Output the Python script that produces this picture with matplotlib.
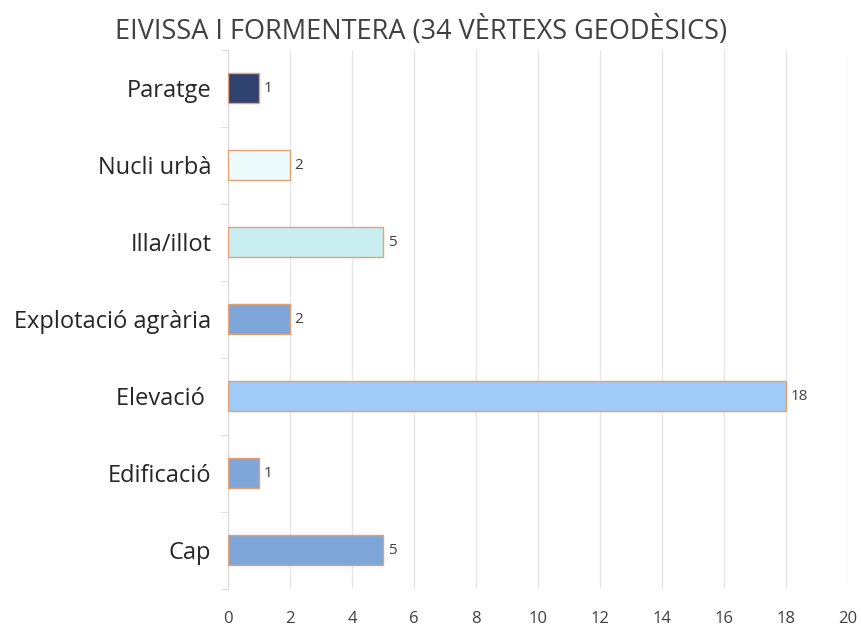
import matplotlib
matplotlib.use("Agg")
import matplotlib.pyplot as plt

categories = ['Cap', 'Edificació', 'Elevació ', 'Explotació agrària',
              'Illa/illot', 'Nucli urbà', 'Paratge']
counts = [5, 1, 18, 2, 5, 2, 1]
bar_colors = ['#7ea6d8', '#7ea6d8', '#9ecbf7', '#7ea6d8',
              '#c8eef2', '#ecfbfb', '#2f4270']
x_ticks = list(range(0, 21, 2))
title = 'EIVISSA I FORMENTERA (34 VÈRTEXS GEODÈSICS)'

plt.rcParams['font.family'] = ['Open Sans', 'DejaVu Sans']

fig = plt.figure(figsize=(8.62, 6.27), dpi=100)
ax = fig.add_axes([0.2645, 0.0614, 0.7193, 0.8596])

ypos = range(len(categories))
ax.barh(ypos, counts, height=0.39, color=bar_colors,
        edgecolor='#e8a070', linewidth=1.0, zorder=3)
for y, v in zip(ypos, counts):
    ax.text(v + 0.15, y, str(v), va='center', ha='left',
            fontsize=11, color='#404040')

ax.set_xlim(0, 20)
ax.set_ylim(-0.5, len(categories) - 0.5)
ax.set_xticks(x_ticks)
ax.set_yticks(list(ypos))
ax.set_yticklabels(categories, fontsize=17, color='#262626')
ax.tick_params(axis='x', length=0, labelsize=12, colors='#404040', pad=16)
ax.tick_params(axis='y', length=0, pad=12)
# small minor ticks at category boundaries on the left axis
ax.set_yticks([i - 0.5 for i in range(len(categories) + 1)], minor=True)
ax.tick_params(axis='y', which='minor', length=5, color='#d9d9d9', direction='out')

ax.grid(axis='x', color='#e6e6e6', linewidth=0.9, zorder=0)
for s in ['top', 'right', 'bottom']:
    ax.spines[s].set_visible(False)
ax.spines['left'].set_color('#d9d9d9')

fig.text(0.488, 0.951, title, ha='center', va='center',
         fontsize=19.5, color='#404040')

fig.savefig('out.png', dpi=100)
